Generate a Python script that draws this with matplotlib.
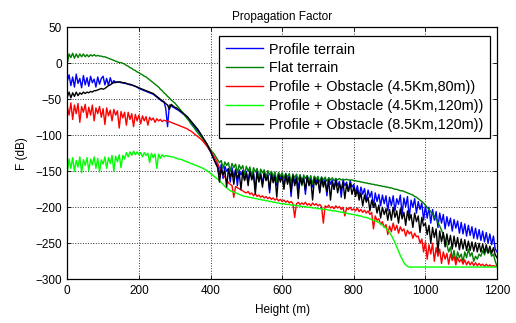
import numpy as np
import matplotlib
matplotlib.use("Agg")
import matplotlib.pyplot as plt

plt.rcParams['font.family'] = ['Liberation Sans', 'DejaVu Sans']

# Height grid (m), 5 m step
height = list(range(0, 1205, 5))

profile_terrain = [
    -25, -16, -31, -19, -33, -15, -28, -21, -34, -17, -30, -20, -32, -18, -27, -22, -33, -19, -29, -21,
    -18, -30, -21, -31, -20, -28, -24, -27, -26, -26, -27, -27, -28, -28, -29, -30, -30, -31, -32, -33,
    -35, -36, -37, -38, -39, -40, -41, -42, -43, -45, -47, -49, -51, -53, -53, -63, -88, -58, -59, -61,
    -62, -64, -65, -67, -69, -71, -73, -75, -78, -81, -85, -88, -91, -94, -97, -101, -105, -109, -114, -119,
    -123, -129, -134, -138, -142, -155, -140, -160, -143, -150, -146, -165, -145, -158, -147, -170, -148, -155, -149, -162,
    -150, -165, -148, -158, -151, -176, -149, -160, -152, -168, -150, -157, -153, -180, -151, -162, -154, -170, -152, -160,
    -155, -172, -153, -163, -156, -185, -154, -166, -157, -175, -155, -163, -158, -182, -156, -166, -159, -172, -157, -165,
    -160, -178, -158, -167, -161, -184, -159, -168, -162, -175, -160, -170, -164, -186, -162, -170, -165, -178, -163, -172,
    -168, -180, -170, -185, -172, -182, -174, -190, -176, -186, -178, -200, -180, -192, -182, -198, -183, -195, -184, -205,
    -186, -198, -184, -205, -188, -196, -183, -210, -187, -199, -185, -215, -190, -200, -188, -208, -192, -203, -194, -218,
    -198, -215, -200, -222, -203, -218, -206, -228, -208, -222, -210, -230, -213, -226, -215, -233, -217, -229, -219, -236,
    -221, -237, -223, -240, -225, -239, -227, -243, -229, -244, -231, -246, -233, -248, -235, -250, -237, -252, -240, -258,
    -262,
]

flat_terrain = [
    0, 13, 8, 14, 7, 13, 8, 13, 9, 13, 9, 12, 9, 12, 10, 12, 10, 11, 10, 10,
    9, 9, 8, 7, 6, 5, 4, 3, 2, 1, 1, 0, -1, -3, -4, -6, -7, -9, -10, -12,
    -13, -15, -16, -18, -19, -21, -23, -25, -27, -29, -31, -33, -36, -38, -41, -43, -46, -48, -51, -53,
    -55, -58, -61, -64, -67, -70, -74, -77, -80, -84, -87, -90, -94, -97, -100, -103, -106, -109, -112, -116,
    -120, -123, -126, -130, -134, -138, -135, -146, -137, -142, -138, -150, -139, -145, -140, -152, -141, -147, -142, -155,
    -143, -150, -144, -158, -145, -151, -146, -160, -147, -152, -148, -162, -149, -155, -150, -158, -151, -165, -152, -157,
    -152, -160, -153, -158, -153, -166, -154, -159, -154, -162, -155, -170, -155, -160, -156, -163, -156, -168, -157, -161,
    -157, -165, -158, -162, -158, -164, -159, -162, -159, -163, -160, -162, -160, -162, -161, -162, -161, -162, -162, -162,
    -163, -163, -164, -164, -165, -165, -166, -166, -167, -167, -168, -168, -169, -169, -170, -170, -171, -171, -172, -172,
    -173, -173, -174, -175, -175, -176, -177, -177, -178, -179, -180, -181, -182, -183, -185, -186, -188, -190, -192, -194,
    -197, -200, -203, -206, -209, -213, -217, -221, -226, -232, -238, -245, -252, -262, -255, -272, -260, -275, -262, -270,
    -265, -276, -262, -270, -258, -268, -263, -275, -268, -272, -265, -268, -260, -266, -258, -264, -260, -268, -265, -275,
    -282,
]

obstacle_45_80 = [
    -60, -72, -55, -78, -58, -70, -56, -82, -60, -68, -57, -76, -61, -72, -58, -80, -62, -70, -60, -75,
    -63, -85, -62, -73, -65, -80, -64, -72, -66, -90, -67, -76, -68, -86, -68, -78, -70, -88, -71, -80,
    -72, -84, -73, -80, -74, -86, -75, -79, -76, -82, -77, -80, -78, -81, -79, -80, -80, -81, -82, -83,
    -84, -85, -86, -87, -88, -89, -90, -91, -93, -94, -96, -98, -100, -102, -104, -106, -109, -112, -115, -118,
    -122, -126, -130, -134, -139, -145, -150, -155, -158, -162, -166, -168, -170, -186, -171, -173, -174, -176, -177, -179,
    -180, -178, -182, -180, -184, -181, -185, -183, -186, -184, -187, -185, -188, -186, -189, -187, -190, -188, -191, -189,
    -192, -190, -193, -191, -194, -192, -195, -214, -195, -193, -196, -194, -196, -193, -197, -195, -198, -194, -197, -195,
    -198, -196, -199, -222, -198, -200, -197, -201, -199, -202, -198, -201, -199, -203, -200, -212, -201, -203, -200, -204,
    -202, -205, -201, -206, -203, -207, -204, -208, -205, -210, -207, -230, -212, -218, -216, -224, -220, -228, -224, -238,
    -226, -234, -222, -232, -225, -236, -227, -233, -230, -240, -232, -237, -234, -243, -236, -241, -240, -250, -244, -262,
    -248, -272, -252, -265, -250, -275, -256, -268, -258, -278, -262, -272, -264, -279, -265, -274, -268, -280, -270, -276,
    -272, -279, -273, -280, -275, -280, -276, -281, -277, -281, -278, -281, -279, -282, -279, -282, -280, -282, -281, -282,
    -282,
]

obstacle_45_120 = [
    -152, -133, -146, -131, -150, -135, -144, -130, -152, -134, -142, -131, -149, -133, -141, -130, -146, -132, -151, -134,
    -140, -130, -146, -131, -139, -128, -150, -129, -137, -127, -145, -128, -133, -124, -130, -123, -128, -122, -127, -123,
    -127, -124, -130, -124, -128, -125, -138, -125, -131, -126, -146, -126, -132, -127, -130, -128, -129, -129, -130, -130,
    -131, -132, -133, -133, -134, -135, -136, -137, -138, -139, -140, -141, -142, -143, -144, -145, -146, -148, -149, -151,
    -153, -155, -157, -159, -161, -163, -166, -168, -171, -173, -175, -177, -178, -179, -180, -181, -182, -183, -184, -185,
    -185, -186, -186, -187, -187, -188, -188, -189, -189, -190, -190, -191, -191, -192, -192, -193, -193, -194, -194, -195,
    -195, -195, -196, -196, -196, -197, -197, -197, -198, -198, -198, -199, -199, -199, -200, -200, -200, -201, -201, -201,
    -202, -202, -202, -203, -203, -203, -204, -204, -205, -205, -205, -206, -206, -207, -207, -208, -208, -209, -209, -210,
    -210, -211, -211, -212, -212, -213, -214, -214, -215, -216, -217, -218, -219, -220, -221, -223, -225, -227, -229, -232,
    -235, -239, -244, -249, -255, -261, -267, -272, -277, -280, -282, -283, -283, -283, -283, -283, -283, -283, -283, -283,
    -283, -283, -283, -283, -283, -283, -283, -283, -283, -283, -283, -283, -283, -283, -283, -283, -283, -283, -283, -283,
    -283, -283, -283, -283, -283, -283, -283, -283, -283, -283, -283, -283, -283, -283, -283, -283, -283, -283, -283, -283,
    -283,
]

obstacle_85_120 = [
    -47, -40, -48, -41, -46, -40, -45, -41, -43, -40, -42, -40, -41, -39, -40, -38, -38, -37, -36, -35,
    -36, -35, -33, -31, -30, -28, -27, -26, -26, -26, -26, -27, -27, -28, -29, -29, -30, -31, -32, -33,
    -34, -35, -36, -37, -38, -39, -40, -41, -42, -44, -46, -48, -50, -52, -54, -56, -58, -64, -57, -59,
    -61, -62, -64, -66, -68, -70, -72, -74, -77, -80, -83, -86, -89, -92, -96, -100, -104, -108, -112, -117,
    -122, -128, -134, -140, -145, -165, -146, -155, -149, -172, -147, -158, -150, -168, -149, -160, -152, -175, -150, -163,
    -152, -170, -150, -162, -154, -182, -151, -165, -155, -172, -153, -163, -156, -176, -154, -166, -157, -186, -155, -165,
    -157, -175, -155, -168, -158, -178, -156, -170, -160, -188, -158, -168, -160, -176, -158, -170, -162, -190, -160, -169,
    -162, -180, -160, -172, -164, -178, -162, -190, -165, -175, -163, -180, -167, -176, -165, -188, -168, -178, -167, -182,
    -172, -185, -176, -190, -180, -198, -183, -193, -186, -205, -190, -200, -194, -208, -197, -215, -200, -210, -202, -218,
    -203, -218, -200, -214, -205, -222, -202, -216, -207, -225, -205, -218, -210, -228, -208, -220, -212, -235, -214, -226,
    -222, -238, -225, -250, -228, -242, -230, -262, -233, -248, -235, -255, -237, -252, -239, -258, -240, -255, -242, -259,
    -244, -258, -245, -260, -247, -260, -248, -261, -249, -262, -250, -262, -251, -263, -252, -263, -254, -264, -256, -266,
    -270,
]

labels = [
    "Profile terrain",
    "Flat terrain",
    "Profile + Obstacle (4.5Km,80m))",
    "Profile + Obstacle (4.5Km,120m))",
    "Profile + Obstacle (8.5Km,120m))",
]
colors = ["#0000FF", "#008000", "#FF0000", "#00FF00", "#000000"]
series = [profile_terrain, flat_terrain, obstacle_45_80, obstacle_45_120, obstacle_85_120]

fig = plt.figure(figsize=(5.16, 3.23), dpi=100)
ax = fig.add_axes([0.1304, 0.1353, 0.8328, 0.7802])

for ys, c, lab in zip(series, colors, labels):
    ax.plot(height, ys, color=c, linewidth=1.0, label=lab)

ax.set_xlim(0, 1200)
ax.set_ylim(-300, 50)
ax.set_xticks(range(0, 1201, 200))
ax.set_yticks(range(-300, 51, 50))
ax.tick_params(direction='in', top=True, right=True, labelsize=8.5, length=3, width=0.6, pad=4)
ax.grid(True, linestyle=':', color='0.2', linewidth=0.7)
for sp in ax.spines.values():
    sp.set_linewidth(0.9)

ax.set_title("Propagation Factor", fontsize=8.5, pad=5)
ax.set_xlabel("Height (m)", fontsize=8.5, labelpad=5)
ax.set_ylabel("F (dB)", fontsize=8.5, labelpad=5)

leg = ax.legend(loc='upper right', bbox_to_anchor=(490 / 516, 1 - 36 / 323),
                bbox_transform=fig.transFigure, borderaxespad=0, fontsize=10.4,
                frameon=True, fancybox=False, edgecolor='black', framealpha=1,
                handlelength=2.6, handletextpad=0.4, labelspacing=0.33,
                borderpad=0.45)
leg.get_frame().set_linewidth(0.9)

fig.savefig("out.png", dpi=100)
